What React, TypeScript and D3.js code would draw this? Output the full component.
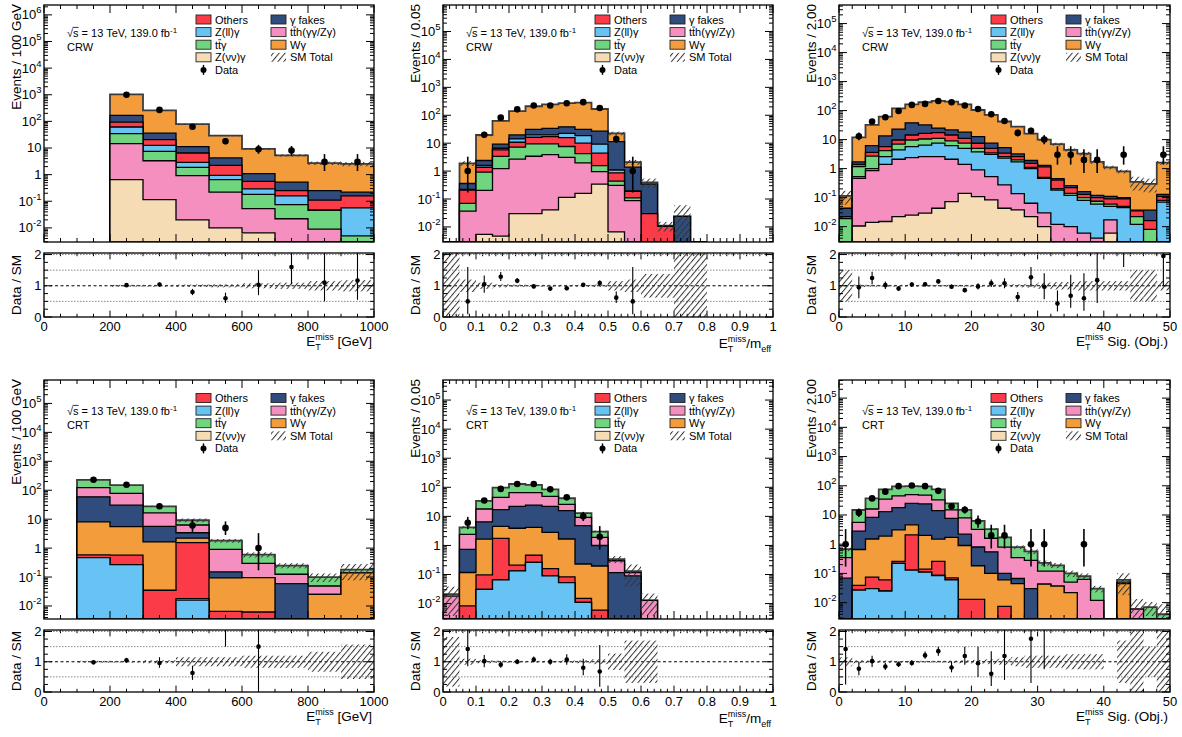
import React from 'react';
import * as d3 from 'd3';

const FONT = "'Liberation Sans', Arial, Helvetica, sans-serif";

// ---------------- processes ----------------
const PROC_COLORS: any = {
  oth: '#fb3c48', zll: '#66c3f3', ttg: '#6fd67f', zvv: '#f6dcb4',
  fake: '#2f4c7d', tth: '#f48fc0', wg: '#f39c3c',
};

// ---------------- CRW : ETmiss ----------------
const CRW_MET_EDGES = [200, 300, 400, 500, 600, 700, 800, 900, 1000];
const CRW_MET_ZVV = [0.65, 0.115, 0.02, 0.01, 0.0065, 0, 0, 0];
const CRW_MET_TTH = [13.9, 3.2, 0.9, 0.21, 0.046, 0.022, 0.009, 0];
const CRW_MET_TTG = [20, 4.2, 0.96, 0.43, 0.13, 0.053, 0.037, 0.005];
const CRW_MET_ZLL = [27, 5.1, 1.0, 0.29, 0.11, 0.085, 0, 0.051];
const CRW_MET_OTH = [32.5, 7.9, 3.6, 1.3, 0.27, 0.09, 0.064, 0.104];
const CRW_MET_FAKE = [74, 15.5, 4.7, 2.0, 0.53, 0.27, 0.14, 0.06];
const CRW_MET_WG = [862, 222, 68, 25, 8.1, 4.8, 2.45, 2.3];
const CRW_MET_DATA = [1000, 270, 63, 18, 9, 8, 3, 3];
const CRW_MET_RATIO = [1.02, 1.04, 0.8, 0.6, 1.03, 1.6, 1.1, 1.17];
const CRW_MET_RLO = [0.98, 0.98, 0.7, 0.45, 0.7, 1.05, 0.5, 0.55];
const CRW_MET_RHI = [1.06, 1.1, 0.9, 0.78, 1.5, 2.5, 2.5, 2.5];
const CRW_MET_UNC = [0.03, 0.03, 0.04, 0.05, 0.08, 0.1, 0.15, 0.18];

// ---------------- CRW : ETmiss / meff ----------------
const CRW_MEFF_EDGES = [0, 0.05, 0.1, 0.15, 0.2, 0.25, 0.3, 0.35, 0.4, 0.45, 0.5, 0.55, 0.6, 0.65, 0.7, 0.75, 0.8];
const CRW_MEFF_ZVV = [0, 0, 0.0054, 0.0047, 0.03, 0.03, 0.041, 0.115, 0.16, 0.34, 0.0066, 0, 0, 0, 0, 0];
const CRW_MEFF_TTH = [0, 0.037, 0.2, 1.23, 2.67, 3.37, 3.86, 2.99, 1.81, 0.61, 0.3, 0.087, 0, 0, 0, 0];
const CRW_MEFF_TTG = [0, 0.033, 0.71, 2.16, 4.5, 6.1, 5.6, 4.5, 2.23, 0.63, 0.13, 0.022, 0, 0, 0, 0];
const CRW_MEFF_OTH = [0, 0.14, 0.46, 2.4, 3.6, 6.8, 7.7, 8.2, 5.8, 2.82, 0.43, 0.081, 0.03, 0.0105, 0, 0];
const CRW_MEFF_ZLL = [0, 0.01, 0.22, 0.8, 3.4, 3.4, 2.5, 6.8, 8.6, 4.8, 0.23, 0, 0, 0, 0, 0];
const CRW_MEFF_FAKE = [0, 0.14, 0.8, 2.6, 5.5, 11.3, 14.1, 16, 12.4, 17.8, 10.3, 1.19, 0.31, 0, 0.024, 0];
const CRW_MEFF_WG = [0, 1.54, 17.2, 53.8, 120, 179, 211, 233, 254, 141, 11.1, 0.7, 0.05, 0.0005, 0, 0];
const CRW_MEFF_DATA = [0, 1, 20, 82, 163, 225, 225, 271, 295, 181, 14, 1, 0, 0, 0, 0];
const CRW_MEFF_RATIO = [null, 0.5, 1.05, 1.29, 1.16, 0.98, 0.91, 0.92, 1.03, 1.09, 0.62, 0.5, null, null, null, null];
const CRW_MEFF_RLO = [null, 0.09, 0.78, 1.15, 1.08, 0.92, 0.85, 0.86, 0.97, 1.0, 0.45, 0.09, null, null, null, null];
const CRW_MEFF_RHI = [null, 1.6, 1.33, 1.44, 1.25, 1.05, 0.97, 0.98, 1.09, 1.18, 0.82, 1.6, null, null, null, null];
const CRW_MEFF_UNC = [1.5, 0.2, 0.1, 0.05, 0.04, 0.03, 0.03, 0.03, 0.03, 0.04, 0.15, 0.2, 0.38, 0.38, 1.5, 1.5];

// ---------------- CRW : ETmiss significance ----------------
const CRW_SIG_EDGES = d3.range(0, 51, 2);
const CRW_SIG_ZVV = [0, 0.0105, 0.014, 0.015, 0.022, 0.025, 0.029, 0.043, 0.073, 0.14, 0.108, 0.083, 0.043, 0.038, 0.022, 0.01, 0, 0, 0, 0, 0.006, 0, 0, 0, 0];
const CRW_SIG_TTH = [0, 0.45, 0.84, 1.385, 2.08, 2.375, 2.57, 2.56, 2.03, 1.26, 0.79, 0.45, 0.23, 0.1, 0.042, 0.02, 0.012, 0.01, 0.006, 0.004, 0.011, 0, 0, 0, 0];
const CRW_SIG_ZLL = [0, 0.07, 0.15, 1.2, 2.3, 3.3, 3.9, 4.9, 4.1, 3.6, 2.9, 2.57, 2.03, 1.56, 0.94, 0.43, 0.17, 0.11, 0.074, 0.056, 0.033, 0.045, 0.012, 0, 0.07];
const CRW_SIG_TTG = [0.019, 0.64, 1.7, 1.6, 2.6, 4.0, 4.0, 3.5, 2.8, 2.5, 1.2, 0.4, 0.3, 0.3, 0.1, 0.04, 0.02, 0.02, 0.02, 0.015, 0.01, 0.005, 0.01, 0.008, 0.01];
const CRW_SIG_OTH = [0.003, 0.23, 0.9, 1.5, 2.7, 4.7, 6.0, 6.5, 5.4, 3.5, 2.5, 1.5, 0.8, 0.6, 0.4, 0.65, 0.2, 0.08, 0.03, 0.025, 0.03, 0.04, 0.013, 0.008, 0.03];
const CRW_SIG_FAKE = [0.021, 0.3, 2.6, 7.7, 13.3, 23.6, 15.5, 7.5, 7.2, 7, 5.2, 2.5, 1.9, 0.6, 0.4, 0.15, 0.05, 0.04, 0.03, 0.02, 0.02, 0.01, 0.002, 0.021, 0.02];
const CRW_SIG_WG = [0.071, 10.3, 25.8, 48.6, 97, 127, 162, 190, 182, 147, 92, 63.5, 36.7, 24.8, 14.1, 8.7, 6.55, 4.14, 3.14, 1.58, 0.99, 0.7, 0.313, 0.263, 1.47];
const CRW_SIG_DATA = [0, 13, 42, 59, 97, 157, 170, 215, 194, 149, 114, 75, 44, 17, 20, 10, 3, 3, 2, 2, 0, 3, 0, 0, 3];
const CRW_SIG_RATIO = [null, 0.95, 1.25, 1.02, 0.91, 1.04, 1.05, 1.14, 0.97, 0.86, 0.98, 1.08, 1.08, 0.64, 1.27, 0.97, 0.43, 0.68, 0.6, 1.18, null, 3.7, null, null, 1.95];
const CRW_SIG_RLO = [null, 0.6, 1.05, 0.9, 0.83, 0.97, 0.98, 1.07, 0.9, 0.79, 0.88, 0.96, 0.92, 0.49, 0.97, 0.57, 0.18, 0.3, 0.2, 0.45, null, 1.6, null, null, 1.0];
const CRW_SIG_RHI = [null, 1.3, 1.45, 1.14, 0.99, 1.11, 1.12, 1.21, 1.04, 0.93, 1.08, 1.2, 1.24, 0.8, 1.6, 1.4, 0.85, 1.35, 1.4, 2.2, null, 6, null, null, 2.6];
const CRW_SIG_UNC = [0.5, 0.04, 0.03, 0.03, 0.03, 0.03, 0.03, 0.03, 0.03, 0.03, 0.03, 0.04, 0.04, 0.05, 0.06, 0.1, 0.12, 0.12, 0.15, 0.15, 0.15, 0.15, 0.5, 0.5, 0.15];

// ---------------- CRT : ETmiss ----------------
const CRT_MET_EDGES = [100, 200, 300, 400, 500, 600, 700, 800, 900, 1000];
const CRT_MET_ZLL = [0.47, 0.27, 0, 0.016, 0, 0, 0, 0, 0];
const CRT_MET_ZVV = [0, 0, 0, 0.002, 0, 0, 0, 0, 0];
const CRT_MET_OTH = [0.11, 0.3, 0.035, 1.53, 0.0065, 0.0062, 0, 0, 0];
const CRT_MET_WG = [7.5, 5.0, 1.6, 0.65, 0.087, 0.089, 0, 0.025, 0.14];
const CRT_MET_FAKE = [51, 25, 4, 1.2, 0.057, 0, 0.059, 0, 0];
const CRT_MET_TTH = [65, 47, 11, 2.9, 0.75, 0.2, 0.066, 0.024, 0];
const CRT_MET_TTG = [105, 72, 11, 2.9, 0.9, 0.3, 0.125, 0.051, 0.04];
const CRT_MET_DATA = [230, 155, 28, 6, 5, 1, 0, 0, 0];
const CRT_MET_RATIO = [0.98, 1.05, 0.96, 0.63, 2.8, 1.5, null, null, null];
const CRT_MET_RLO = [0.92, 0.97, 0.8, 0.4, 1.5, 0.05, null, null, null];
const CRT_MET_RHI = [1.05, 1.13, 1.15, 0.87, 4, 3.6, null, null, null];
const CRT_MET_UNC = [0.03, 0.03, 0.05, 0.15, 0.15, 0.2, 0.2, 0.33, 0.57];

// ---------------- CRT : ETmiss / meff ----------------
const CRT_MEFF_EDGES = [0, 0.05, 0.1, 0.15, 0.2, 0.25, 0.3, 0.35, 0.4, 0.45, 0.5, 0.55, 0.6, 0.65];
const CRT_MEFF_ZLL = [0, 0, 0.031, 0.066, 0.134, 0.26, 0.09, 0.053, 0.011, 0, 0, 0, 0];
const CRT_MEFF_ZVV = [0, 0, 0, 0, 0, 0, 0, 0, 0, 0, 0, 0, 0];
const CRT_MEFF_OTH = [0, 0.0083, 0.066, 1.68, 0.076, 0.2, 0.07, 0.03, 0.004, 0.006, 0, 0, 0];
const CRT_MEFF_WG = [0, 0.109, 1.56, 2.75, 3.69, 3.74, 2.64, 1.58, 0.215, 0.19, 0, 0, 0];
const CRT_MEFF_FAKE = [0, 0.62, 4.84, 12.5, 18.1, 20.3, 19.2, 14, 4.57, 0.8, 0.117, 0.09, 0];
const CRT_MEFF_TTH = [0.018, 1.66, 11.4, 28, 44, 41.5, 27, 10.3, 4.4, 0.9, 0.18, 0.027, 0.013];
const CRT_MEFF_TTG = [0.003, 1.8, 16, 53, 64, 56, 36, 16, 3.8, 1.1, 0.04, 0.013, 0];
const CRT_MEFF_DATA = [0, 6, 35, 88, 130, 130, 85, 45, 10, 2, 0, 0, 0];
const CRT_MEFF_RATIO = [null, 1.42, 1.02, 0.9, 1.0, 1.07, 1.0, 1.07, 0.8, 0.68, null, null, null];
const CRT_MEFF_RLO = [null, 0.85, 0.82, 0.8, 0.92, 0.98, 0.9, 0.9, 0.55, 0.17, null, null, null];
const CRT_MEFF_RHI = [null, 2.5, 1.22, 1.0, 1.09, 1.17, 1.1, 1.25, 1.1, 1.55, null, null, null];
const CRT_MEFF_UNC = [0.82, 0.1, 0.05, 0.04, 0.03, 0.03, 0.03, 0.04, 0.05, 0.08, 0.27, 0.7, 0.7];

// ---------------- CRT : ETmiss significance ----------------
const CRT_SIG_EDGES = d3.range(0, 51, 2);
const CRT_SIG_ZLL = [0, 0.027, 0.03, 0.025, 0.22, 0.13, 0.11, 0.085, 0.06, 0, 0, 0, 0, 0, 0, 0, 0, 0, 0, 0, 0, 0, 0, 0, 0];
const CRT_SIG_ZVV = [0, 0, 0, 0, 0, 0, 0, 0, 0, 0, 0, 0, 0, 0, 0, 0, 0, 0, 0, 0, 0, 0, 0, 0, 0];
const CRT_SIG_OTH = [0, 0.012, 0.045, 0.035, 0.04, 1.97, 0.03, 0.175, 0.01, 0.013, 0.013, 0, 0.0075, 0, 0, 0, 0, 0, 0, 0, 0, 0, 0, 0, 0];
const CRT_SIG_WG = [0, 0.62, 1.43, 1.84, 2.84, 2.5, 1.86, 1.24, 1.63, 0.89, 0.17, 0.1, 0.053, 0.045, 0, 0.043, 0.037, 0.022, 0, 0, 0, 0.045, 0, 0, 0];
const CRT_SIG_FAKE = [0.069, 2.14, 6.8, 11.1, 14.9, 20.4, 22, 12.5, 6, 1.3, 0.62, 0.45, 0.04, 0.022, 0.03, 0, 0, 0, 0, 0, 0, 0, 0, 0, 0];
const CRT_SIG_TTH = [0.28, 2.8, 7.7, 22, 27, 25, 24, 19, 7.3, 5.8, 2.4, 1.05, 0.7, 0.28, 0.25, 0.077, 0.083, 0.028, 0.063, 0.012, 0, 0.005, 0.006, 0, 0];
const CRT_SIG_TTG = [0.33, 9.2, 21, 40, 50, 47, 47, 42, 10, 7, 3.1, 1.7, 0.9, 0.45, 0.29, 0.11, 0.07, 0.05, 0.017, 0.018, 0, 0.01, 0, 0.007, 0.004];
const CRT_SIG_DATA = [1, 12, 37, 63, 97, 102, 97, 67, 20, 15, 6, 2, 2, 0, 1, 1, 0, 0, 1, 0, 0, 0, 0, 0, 0];
const CRT_SIG_RATIO = [1.42, 0.77, 1.02, 0.84, 0.92, 0.96, 1.21, 1.35, 0.81, 1.19, 0.95, 0.6, 1.19, null, 1.76, 2.9, null, null, 12, null, null, null, null, null, null];
const CRT_SIG_RLO = [0.25, 0.55, 0.83, 0.73, 0.83, 0.87, 1.1, 1.2, 0.65, 0.9, 0.5, 0.2, 0.4, null, 0.3, 0.75, null, null, 2.1, null, null, null, null, null, null];
const CRT_SIG_RHI = [2.5, 1.0, 1.2, 0.96, 1.01, 1.06, 1.34, 1.5, 1.0, 1.5, 1.5, 1.35, 2.5, null, 2.5, 5, null, null, 40, null, null, null, null, null, null];
const CRT_SIG_UNC = [0.15, 0.05, 0.04, 0.04, 0.03, 0.03, 0.03, 0.03, 0.04, 0.05, 0.06, 0.08, 0.1, 0.15, 0.2, 0.2, 0.2, 0.25, 0.25, 0.25, 0, 0.7, 1.2, 0.5, 1.2];

// ---------------- axis tick labels ----------------
const X_TICKS_MET = [0, 200, 400, 600, 800, 1000];
const X_TICKS_MEFF = [0, 0.1, 0.2, 0.3, 0.4, 0.5, 0.6, 0.7, 0.8, 0.9, 1];
const X_TICKS_SIG = [0, 10, 20, 30, 40, 50];
const RATIO_TICKS = [0, 1, 2];

// ---------------- layout (positions only) ----------------
const ROW_TOP = { top: 5, bot: 242, rTop: 253, rBot: 317, legDy: 14.5, txtDy: 32 };
const ROW_BOT = { top: 380, bot: 619, rTop: 630, rBot: 692, legDy: 18, txtDy: 35 };
const COLS = [{ x0: 44, x1: 374 }, { x0: 443, x1: 773 }, { x0: 839, x1: 1170 }];

const PANELS: any[] = [
  {
    id: 'p1', row: ROW_TOP, col: COLS[0], region: 'CRW', kind: 'met', yTitle: 'Events / 100 GeV',
    xDom: [0, 1000], xTicks: X_TICKS_MET, xMinor: 50, yExp: [-2.53, 6.37],
    edges: CRW_MET_EDGES,
    order: ['zvv', 'tth', 'ttg', 'zll', 'oth', 'fake', 'wg'],
    values: { zvv: CRW_MET_ZVV, tth: CRW_MET_TTH, ttg: CRW_MET_TTG, zll: CRW_MET_ZLL, oth: CRW_MET_OTH, fake: CRW_MET_FAKE, wg: CRW_MET_WG },
    data: CRW_MET_DATA, ratio: CRW_MET_RATIO, rlo: CRW_MET_RLO, rhi: CRW_MET_RHI, unc: CRW_MET_UNC,
  },
  {
    id: 'p2', row: ROW_TOP, col: COLS[1], region: 'CRW', kind: 'meff', yTitle: 'Events / 0.05',
    xDom: [0, 1], xTicks: X_TICKS_MEFF, xMinor: 0.02, yExp: [-2.54, 5.95],
    edges: CRW_MEFF_EDGES,
    order: ['zvv', 'tth', 'ttg', 'oth', 'zll', 'fake', 'wg'],
    values: { zvv: CRW_MEFF_ZVV, tth: CRW_MEFF_TTH, ttg: CRW_MEFF_TTG, oth: CRW_MEFF_OTH, zll: CRW_MEFF_ZLL, fake: CRW_MEFF_FAKE, wg: CRW_MEFF_WG },
    data: CRW_MEFF_DATA, ratio: CRW_MEFF_RATIO, rlo: CRW_MEFF_RLO, rhi: CRW_MEFF_RHI, unc: CRW_MEFF_UNC,
  },
  {
    id: 'p3', row: ROW_TOP, col: COLS[2], region: 'CRW', kind: 'sig', yTitle: 'Events / 2.00',
    xDom: [0, 50], xTicks: X_TICKS_SIG, xMinor: 2, yExp: [-2.53, 5.64],
    edges: CRW_SIG_EDGES,
    order: ['zvv', 'tth', 'zll', 'ttg', 'oth', 'fake', 'wg'],
    values: { zvv: CRW_SIG_ZVV, tth: CRW_SIG_TTH, zll: CRW_SIG_ZLL, ttg: CRW_SIG_TTG, oth: CRW_SIG_OTH, fake: CRW_SIG_FAKE, wg: CRW_SIG_WG },
    data: CRW_SIG_DATA, ratio: CRW_SIG_RATIO, rlo: CRW_SIG_RLO, rhi: CRW_SIG_RHI, unc: CRW_SIG_UNC,
  },
  {
    id: 'p4', row: ROW_BOT, col: COLS[0], region: 'CRT', kind: 'met', yTitle: 'Events / 100 GeV',
    xDom: [0, 1000], xTicks: X_TICKS_MET, xMinor: 50, yExp: [-2.45, 5.81],
    edges: CRT_MET_EDGES,
    order: ['zll', 'zvv', 'oth', 'wg', 'fake', 'tth', 'ttg'],
    values: { zll: CRT_MET_ZLL, zvv: CRT_MET_ZVV, oth: CRT_MET_OTH, wg: CRT_MET_WG, fake: CRT_MET_FAKE, tth: CRT_MET_TTH, ttg: CRT_MET_TTG },
    data: CRT_MET_DATA, ratio: CRT_MET_RATIO, rlo: CRT_MET_RLO, rhi: CRT_MET_RHI, unc: CRT_MET_UNC,
  },
  {
    id: 'p5', row: ROW_BOT, col: COLS[1], region: 'CRT', kind: 'meff', yTitle: 'Events / 0.05',
    xDom: [0, 1], xTicks: X_TICKS_MEFF, xMinor: 0.02, yExp: [-2.53, 5.69],
    edges: CRT_MEFF_EDGES,
    order: ['zll', 'zvv', 'oth', 'wg', 'fake', 'tth', 'ttg'],
    values: { zll: CRT_MEFF_ZLL, zvv: CRT_MEFF_ZVV, oth: CRT_MEFF_OTH, wg: CRT_MEFF_WG, fake: CRT_MEFF_FAKE, tth: CRT_MEFF_TTH, ttg: CRT_MEFF_TTG },
    data: CRT_MEFF_DATA, ratio: CRT_MEFF_RATIO, rlo: CRT_MEFF_RLO, rhi: CRT_MEFF_RHI, unc: CRT_MEFF_UNC,
  },
  {
    id: 'p6', row: ROW_BOT, col: COLS[2], region: 'CRT', kind: 'sig', yTitle: 'Events / 2.00',
    xDom: [0, 50], xTicks: X_TICKS_SIG, xMinor: 2, yExp: [-2.56, 5.62],
    edges: CRT_SIG_EDGES,
    order: ['zll', 'zvv', 'oth', 'wg', 'fake', 'tth', 'ttg'],
    values: { zll: CRT_SIG_ZLL, zvv: CRT_SIG_ZVV, oth: CRT_SIG_OTH, wg: CRT_SIG_WG, fake: CRT_SIG_FAKE, tth: CRT_SIG_TTH, ttg: CRT_SIG_TTG },
    data: CRT_SIG_DATA, ratio: CRT_SIG_RATIO, rlo: CRT_SIG_RLO, rhi: CRT_SIG_RHI, unc: CRT_SIG_UNC,
  },
];

// Poisson (Garwood, Wilson-Hilferty approx.) interval for data points
function poissonLo(n: number) { return n * Math.pow(1 - 1 / (9 * n) - 1 / (3 * Math.sqrt(n)), 3); }
function poissonHi(n: number) { const m = n + 1; return m * Math.pow(1 - 1 / (9 * m) + 1 / (3 * Math.sqrt(m)), 3); }

function legendLabel(key: string) {
  switch (key) {
    case 'oth': return 'Others';
    case 'zll': return 'Z(ll)γ';
    case 'ttg': return 'ttγ';
    case 'zvv': return 'Z(νν)γ';
    case 'fake': return 'γ fakes';
    case 'tth': return 'tth(γγ/Zγ)';
    case 'wg': return 'Wγ';
  }
  return key;
}

function XTitle({ x, y, kind }: any) {
  return (
    <text x={x} y={y} textAnchor="end" fontSize={13.5}>
      E<tspan dy={4} fontSize={9}>T</tspan>
      <tspan dx={-5.5} dy={-10} fontSize={9}>miss</tspan>
      {kind === 'met' && <tspan dy={6}>{' [GeV]'}</tspan>}
      {kind === 'sig' && <tspan dy={6}>{' Sig. (Obj.)'}</tspan>}
      {kind === 'meff' && <tspan dy={6}>/m</tspan>}
      {kind === 'meff' && <tspan dy={4} fontSize={9}>eff</tspan>}
    </text>
  );
}

function fmtX(v: number) {
  return String(+v.toFixed(2));
}

function Panel({ cfg }: any) {
  const { x0, x1 } = cfg.col;
  const { top, bot, rTop, rBot, legDy, txtDy } = cfg.row;
  const ymin = Math.pow(10, cfg.yExp[0]);
  const ymax = Math.pow(10, cfg.yExp[1]);
  const xs = d3.scaleLinear().domain(cfg.xDom).range([x0, x1]);
  const ys = d3.scaleLog().domain([ymin, ymax]).range([bot, top]);
  const yr = d3.scaleLinear().domain([0, 2.05]).range([rBot, rTop]);
  const edges: number[] = cfg.edges;
  const nb = edges.length - 1;
  const keys: string[] = cfg.order;
  const rows = d3.range(nb).map((i) => {
    const o: any = {};
    keys.forEach((k) => (o[k] = cfg.values[k][i]));
    return o;
  });
  const stacked = d3.stack().keys(keys)(rows as any);
  const yv = (v: number) => (v > ymin ? Math.max(top, ys(v)) : bot);

  const stepPath = (vals: number[]) => {
    let p = `M${xs(edges[0])},${bot}`;
    for (let i = 0; i < nb; i++) {
      const y = yv(vals[i]);
      p += `L${xs(edges[i])},${y}L${xs(edges[i + 1])},${y}`;
    }
    p += `L${xs(edges[nb])},${bot}Z`;
    return p;
  };

  const totals = d3.range(nb).map((i) => d3.sum(keys, (k) => cfg.values[k][i]));
  const clipMain = `clip-main-${cfg.id}`;
  const clipRatio = `clip-ratio-${cfg.id}`;

  const xMinorTicks = d3.range(cfg.xDom[0], cfg.xDom[1] + 1e-9, cfg.xMinor);
  const logTicks: { v: number; major: boolean }[] = [];
  for (let e = Math.floor(cfg.yExp[0]); e <= Math.ceil(cfg.yExp[1]); e++) {
    for (let m = 1; m <= 9; m++) {
      const v = m * Math.pow(10, e);
      if (v >= ymin && v <= ymax) logTicks.push({ v, major: m === 1 });
    }
  }
  const majorExps = logTicks.filter((t) => t.major).map((t) => Math.round(Math.log10(t.v)));
  const ratioMinor = d3.range(0, 2.05, 0.25);

  const ML = 8, mL = 4;
  const cx = (i: number) => xs((edges[i] + edges[i + 1]) / 2);

  const legX1 = x0 + 152, legX2 = x0 + 227;
  const legY = (r: number) => top + legDy + r * 12.6;
  const leftCol = ['oth', 'zll', 'ttg', 'zvv'];
  const rightCol = ['fake', 'tth', 'wg'];
  const overTT = (tx: number, base: number) => (
    <line x1={tx + 3.3} x2={tx + 6.2} y1={base - 9} y2={base - 9} stroke="#000" strokeWidth={0.8} />
  );

  return (
    <g>
      <defs>
        <clipPath id={clipMain}><rect x={x0} y={top} width={x1 - x0} height={bot - top} /></clipPath>
        <clipPath id={clipRatio}><rect x={x0} y={rTop} width={x1 - x0} height={rBot - rTop} /></clipPath>
      </defs>

      {/* ---------- main stack ---------- */}
      <g clipPath={`url(#${clipMain})`}>
        {stacked.slice().reverse().map((layer: any, li: number) => {
          const vals = layer.map((d: any) => d[1]);
          const isTop = li === 0;
          return (
            <path key={layer.key} d={stepPath(vals)} fill={PROC_COLORS[layer.key]}
              stroke={isTop ? '#3c3c3c' : '#000'} strokeWidth={isTop ? 1.8 : 1.3} strokeLinejoin="miter" />
          );
        })}
        {totals.map((t, i) => {
          const u = cfg.unc[i];
          if (!(t > 0) || !(u > 0)) return null;
          const yHi = yv(t * (1 + u));
          const yLo = yv(Math.max(t * (1 - u), 0));
          return <rect key={'h' + i} x={xs(edges[i])} y={yHi} width={xs(edges[i + 1]) - xs(edges[i])}
            height={Math.max(0, yLo - yHi)} fill="url(#hatch)" />;
        })}
        {cfg.data.map((n: number, i: number) => {
          if (!(n > 0)) return null;
          const x = cx(i);
          return (
            <g key={'d' + i}>
              <line x1={x} x2={x} y1={yv(poissonLo(n))} y2={yv(poissonHi(n))} stroke="#000" strokeWidth={1.6} />
              <circle cx={x} cy={ys(n)} r={3.3} fill="#000" />
            </g>
          );
        })}
      </g>

      {/* main frame + ticks */}
      <rect x={x0} y={top} width={x1 - x0} height={bot - top} fill="none" stroke="#000" strokeWidth={1.3} />
      {xMinorTicks.map((v: number, i: number) => {
        const major = cfg.xTicks.some((t: number) => Math.abs(t - v) < 1e-9);
        const L = major ? ML : mL;
        const x = xs(v);
        return (
          <g key={'xt' + i} stroke="#000" strokeWidth={1}>
            <line x1={x} x2={x} y1={bot} y2={bot - L} />
            <line x1={x} x2={x} y1={top} y2={top + L} />
            <line x1={x} x2={x} y1={rBot} y2={rBot - L * 0.8} />
            <line x1={x} x2={x} y1={rTop} y2={rTop + L * 0.8} />
          </g>
        );
      })}
      {logTicks.map((t, i) => {
        const y = ys(t.v);
        const L = t.major ? ML : mL;
        return (
          <g key={'yt' + i} stroke="#000" strokeWidth={1}>
            <line x1={x0} x2={x0 + L} y1={y} y2={y} />
            <line x1={x1} x2={x1 - L} y1={y} y2={y} />
          </g>
        );
      })}
      {majorExps.map((e) => {
        const y = ys(Math.pow(10, e)) + 4.5;
        const x = x0 - 2.5;
        if (e === 0) return <text key={'yl' + e} x={x} y={y} textAnchor="end" fontSize={13}>1</text>;
        if (e === 1) return <text key={'yl' + e} x={x} y={y} textAnchor="end" fontSize={13}>10</text>;
        return (
          <text key={'yl' + e} x={x} y={y} textAnchor="end" fontSize={13}>
            10<tspan dy={-6} fontSize={9.5}>{e < 0 ? '-' + Math.abs(e) : String(e)}</tspan>
          </text>
        );
      })}
      <text transform={`translate(${x0 - 23},${top - 1}) rotate(-90)`} textAnchor="end" fontSize={13.5}>{cfg.yTitle}</text>

      {/* labels */}
      <text x={x0 + 23} y={top + txtDy} fontSize={11}>
        √s = 13 TeV, 139.0 fb<tspan dy={-4} fontSize={8}>-1</tspan>
      </text>
      <line x1={x0 + 28.6} x2={x0 + 34.6} y1={top + txtDy - 9.6} y2={top + txtDy - 9.6} stroke="#000" strokeWidth={0.8} />
      <text x={x0 + 23} y={top + txtDy + 14} fontSize={11}>{cfg.region}</text>

      {/* legend */}
      {leftCol.map((k, r) => (
        <g key={'ll' + k}>
          <rect x={legX1} y={legY(r) - 4.5} width={15} height={9} fill={PROC_COLORS[k]} stroke="#222" strokeWidth={0.9} />
          <text x={legX1 + 19} y={legY(r) + 4} fontSize={11}>{legendLabel(k)}</text>
          {k === 'ttg' && overTT(legX1 + 19, legY(r) + 4)}
        </g>
      ))}
      <g>
        <line x1={legX1 + 7.5} x2={legX1 + 7.5} y1={legY(4) - 5} y2={legY(4) + 5} stroke="#000" strokeWidth={1.4} />
        <circle cx={legX1 + 7.5} cy={legY(4)} r={3} fill="#000" />
        <text x={legX1 + 19} y={legY(4) + 4} fontSize={11}>Data</text>
      </g>
      {rightCol.map((k, r) => (
        <g key={'lr' + k}>
          <rect x={legX2} y={legY(r) - 4.5} width={15} height={9} fill={PROC_COLORS[k]} stroke="#222" strokeWidth={0.9} />
          <text x={legX2 + 19} y={legY(r) + 4} fontSize={11}>{legendLabel(k)}</text>
          {k === 'tth' && overTT(legX2 + 19, legY(r) + 4)}
        </g>
      ))}
      <g>
        <rect x={legX2} y={legY(3) - 4.5} width={15} height={9} fill="url(#hatch)" />
        <text x={legX2 + 19} y={legY(3) + 4} fontSize={11}>SM Total</text>
      </g>

      {/* ---------- ratio panel ---------- */}
      <g clipPath={`url(#${clipRatio})`}>
        {[0.5, 1.5, 2].map((v) => (
          <line key={'g' + v} x1={x0} x2={x1} y1={yr(v)} y2={yr(v)} stroke="#888" strokeWidth={1} strokeDasharray="1.5,1.5" />
        ))}
        <line x1={x0} x2={x1} y1={yr(1)} y2={yr(1)} stroke="#000" strokeWidth={1} strokeDasharray="3,2.5" />
        {cfg.unc.map((u: number, i: number) => {
          if (!(u > 0)) return null;
          const yHi = yr(Math.min(1 + u, 2.2));
          const yLo = yr(Math.max(1 - u, -0.1));
          return <rect key={'rh' + i} x={xs(edges[i])} y={yHi} width={xs(edges[i + 1]) - xs(edges[i])}
            height={yLo - yHi} fill="url(#hatch)" />;
        })}
        {cfg.ratio.map((r: number | null, i: number) => {
          if (r === null || r === undefined) return null;
          const x = cx(i);
          const lo = cfg.rlo[i], hi = cfg.rhi[i];
          if (lo > 2.05) return null;
          return (
            <g key={'rp' + i}>
              <line x1={x} x2={x} y1={yr(Math.max(lo, -0.1))} y2={yr(Math.min(hi, 2.2))} stroke="#000" strokeWidth={1.1} />
              {r <= 2.05 && <circle cx={x} cy={yr(r)} r={2.3} fill="#000" />}
            </g>
          );
        })}
      </g>
      <rect x={x0} y={rTop} width={x1 - x0} height={rBot - rTop} fill="none" stroke="#000" strokeWidth={1.3} />
      {ratioMinor.map((v, i) => {
        const major = Math.abs(v - Math.round(v)) < 1e-9;
        const L = major ? ML : mL;
        return (
          <g key={'rt' + i} stroke="#000" strokeWidth={1}>
            <line x1={x0} x2={x0 + L} y1={yr(v)} y2={yr(v)} />
            <line x1={x1} x2={x1 - L} y1={yr(v)} y2={yr(v)} />
          </g>
        );
      })}
      {RATIO_TICKS.map((v) => (
        <text key={'rl' + v} x={x0 - 2.5} y={yr(v) + 4.5} textAnchor="end" fontSize={13}>{v}</text>
      ))}
      <text transform={`translate(${x0 - 23},${(rTop + rBot) / 2}) rotate(-90)`} textAnchor="middle" fontSize={13.5}>Data / SM</text>
      {cfg.xTicks.map((v: number) => (
        <text key={'xl' + v} x={xs(v)} y={rBot + 14} textAnchor="middle" fontSize={13}>{fmtX(v)}</text>
      ))}
      <XTitle x={x1 - 2} y={rBot + (cfg.kind === 'meff' ? 31 : 29)} kind={cfg.kind} />
    </g>
  );
}

export default function App() {
  return (
    <svg width={1182} height={737} viewBox="0 0 1182 737"
      style={{ position: 'absolute', left: 0, top: 0, background: '#fff' }}
      fontFamily={FONT}>
      <defs>
        <pattern id="hatch" patternUnits="userSpaceOnUse" width={4.5} height={4.5} patternTransform="rotate(40)">
          <line x1={0.5} y1={0} x2={0.5} y2={4.5} stroke="#333" strokeWidth={1} />
        </pattern>
      </defs>
      <rect x={0} y={0} width={1182} height={737} fill="#fff" />
      {PANELS.map((p) => <Panel key={p.id} cfg={p} />)}
    </svg>
  );
}
